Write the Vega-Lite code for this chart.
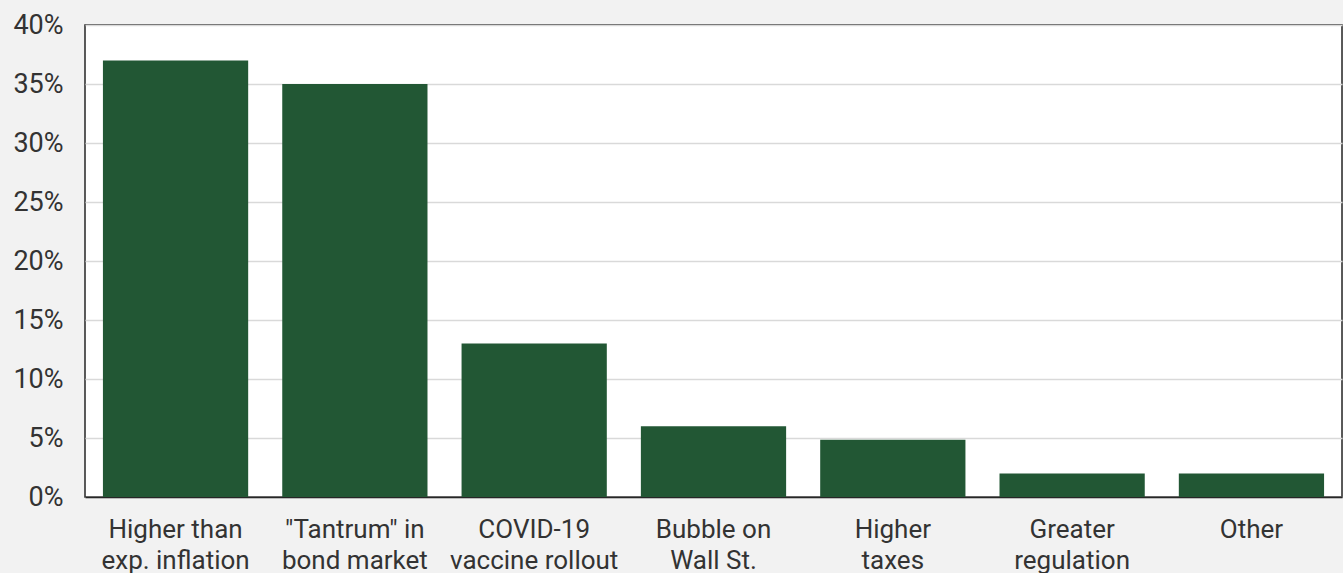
{
  "$schema": "https://vega.github.io/schema/vega-lite/v6.json",
  "width": 1257,
  "height": 472,
  "autosize": {"type": "none"},
  "padding": {"left": 85, "top": 25, "right": 1, "bottom": 76},
  "background": "#f2f2f2",
  "config": {
    "view": {"fill": "#ffffff", "stroke": "#262626", "strokeWidth": 1.5},
    "font": "Roboto"
  },
  "data": {
    "values": [
      {"cat": "Higher than|exp. inflation", "val": 0.37},
      {"cat": "\"Tantrum\" in|bond market", "val": 0.35},
      {"cat": "COVID-19|vaccine rollout", "val": 0.13},
      {"cat": "Bubble on|Wall St.", "val": 0.06},
      {"cat": "Higher|taxes", "val": 0.0485},
      {"cat": "Greater|regulation", "val": 0.02},
      {"cat": "Other", "val": 0.02}
    ]
  },
  "mark": {"type": "bar", "color": "#225734"},
  "encoding": {
    "x": {
      "field": "cat",
      "type": "nominal",
      "sort": null,
      "title": null,
      "scale": {"paddingInner": 0.19, "paddingOuter": 0.1},
      "axis": {
        "labelAngle": 0,
        "labelExpr": "split(datum.label, '|')",
        "labelLineHeight": 31,
        "labelFontSize": 26,
        "labelColor": "#333333",
        "labelPadding": 19,
        "labelBaseline": "top",
        "ticks": false,
        "domainColor": "#262626",
        "domainWidth": 1.5,
        "labelFont": "Roboto"
      }
    },
    "y": {
      "field": "val",
      "type": "quantitative",
      "title": null,
      "scale": {"domain": [0, 0.4], "nice": false},
      "axis": {
        "format": ".0%",
        "values": [0, 0.05, 0.1, 0.15, 0.2, 0.25, 0.3, 0.35, 0.4],
        "labelFontSize": 27,
        "labelColor": "#333333",
        "labelPadding": 22,
        "ticks": false,
        "domain": false,
        "gridColor": "#d9d9d9",
        "gridWidth": 1.5,
        "labelFont": "Roboto"
      }
    }
  }
}
